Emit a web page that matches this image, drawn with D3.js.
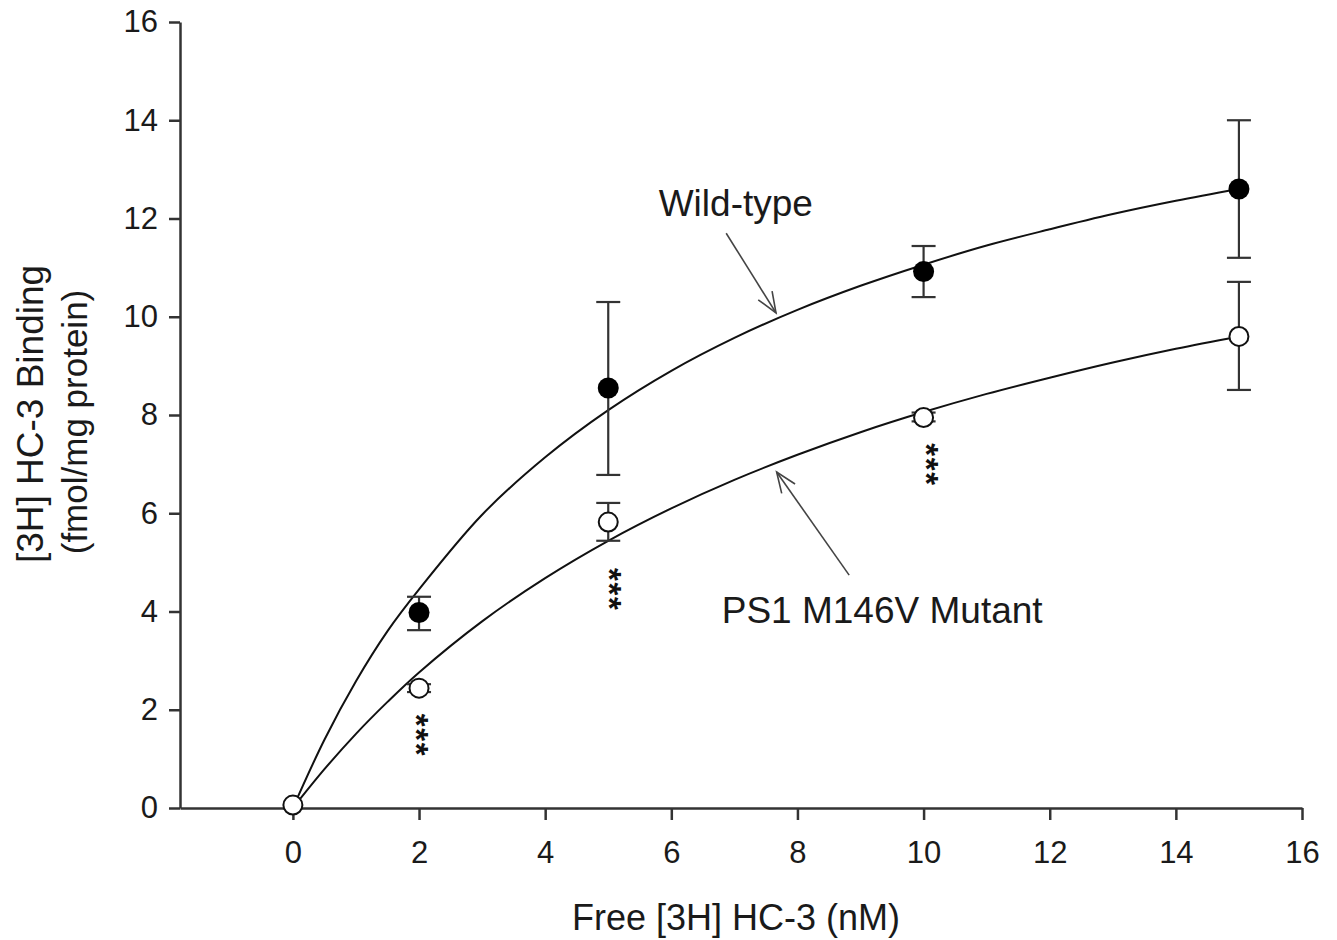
<!DOCTYPE html>
<html>
<head>
<meta charset="utf-8">
<script src="https://cdn.jsdelivr.net/npm/d3@7/dist/d3.min.js"></script>
<style>
  html, body { margin: 0; padding: 0; background: #fff; }
  svg text { font-family: "Liberation Sans", Arial, sans-serif; }
</style>
</head>
<body>
<svg id="chart" width="1337" height="940"></svg>
<script>
// ---- data ----
const xTicks = [0, 2, 4, 6, 8, 10, 12, 14, 16];
const yTicks = [0, 2, 4, 6, 8, 10, 12, 14, 16];

// Wild-type (filled circles): concentration, mean, error low, error high
const wtX    = [2, 5, 10, 15];
const wtY    = [3.98, 8.55, 10.92, 12.60];
const wtLo   = [3.62, 6.78, 10.40, 11.20];
const wtHi   = [4.30, 10.30, 11.44, 14.00];

// PS1 M146V mutant (open circles)
const mutX   = [0, 2, 5, 10, 15];
const mutY   = [0.06, 2.44, 5.82, 7.95, 9.60];
const mutLo  = [0.06, 2.36, 5.44, 7.87, 8.51];
const mutHi  = [0.06, 2.52, 6.21, 8.05, 10.71];

// fitted curves, points
const curveX   = [0, 0.5, 1, 1.5, 2, 3, 4, 5, 6, 7, 8, 9, 10, 11, 12, 13, 14, 15];
const wtCurve  = [0, 1.39, 2.58, 3.60, 4.45, 5.97, 7.14, 8.10, 8.90, 9.57, 10.14, 10.63, 11.06, 11.45, 11.78, 12.09, 12.36, 12.60];
const mutCurve = [0, 0.79, 1.51, 2.16, 2.76, 3.80, 4.68, 5.44, 6.10, 6.68, 7.19, 7.65, 8.06, 8.43, 8.76, 9.07, 9.35, 9.60];

// significance marks (***), position in data units
const sigX = [1.97, 5.02, 10.06];
const sigY = [1.49, 4.46, 7.00];

// annotation labels and arrows (data units)
const labels = [
  { text: "Wild-type", x: 5.80, y: 12.05 },
  { text: "PS1 M146V Mutant", x: 6.80, y: 3.77 }
];
const arrows = [
  { x1: 6.87, y1: 11.70, x2: 7.66, y2: 10.08 },
  { x1: 8.82, y1: 4.74,  x2: 7.67, y2: 6.84 }
];

// ---- drawing ----
const svg = d3.select("#chart");
const x = d3.scaleLinear().domain([-1.79, 16]).range([180, 1302]);
const y = d3.scaleLinear().domain([0, 16]).range([808, 22]);
const axisColor = "#333";

// curves
const line = d3.line().x(d => x(d[0])).y(d => y(d[1])).curve(d3.curveCatmullRom.alpha(0.5));
svg.append("path").datum(curveX.map((v, i) => [v, wtCurve[i]]))
  .attr("d", line).attr("fill", "none").attr("stroke", "#111").attr("stroke-width", 2);
svg.append("path").datum(curveX.map((v, i) => [v, mutCurve[i]]))
  .attr("d", line).attr("fill", "none").attr("stroke", "#111").attr("stroke-width", 2);

// axes
const xAxis = d3.axisBottom(x).tickValues(xTicks).tickSize(12).tickPadding(21).tickSizeOuter(0).tickFormat(d3.format("d"));
const gx = svg.append("g").attr("transform", `translate(0,${y(0)})`).call(xAxis);
const yAxis = d3.axisLeft(y).tickValues(yTicks).tickSize(11).tickPadding(11).tickSizeOuter(0).tickFormat(d3.format("d"));
const gy = svg.append("g").attr("transform", `translate(${x(-1.79)},0)`).call(yAxis);
[gx, gy].forEach(g => {
  g.select(".domain").attr("stroke", axisColor).attr("stroke-width", 2.5);
  g.selectAll(".tick line").attr("stroke", axisColor).attr("stroke-width", 2.5);
  g.selectAll(".tick text").attr("fill", "#1a1a1a").style("font-size", "31px")
    .style("font-family", '"Liberation Sans", Arial, sans-serif');
});

// error bars
function errorBars(xs, lo, hi) {
  const g = svg.append("g").attr("stroke", axisColor).attr("stroke-width", 2.2);
  xs.forEach((xv, i) => {
    if (hi[i] - lo[i] <= 0) return;
    g.append("line").attr("x1", x(xv)).attr("x2", x(xv)).attr("y1", y(lo[i])).attr("y2", y(hi[i]));
    [lo[i], hi[i]].forEach(v => {
      g.append("line").attr("x1", x(xv) - 12).attr("x2", x(xv) + 12).attr("y1", y(v)).attr("y2", y(v));
    });
  });
}
errorBars(wtX, wtLo, wtHi);
errorBars(mutX, mutLo, mutHi);

// markers
svg.append("g").selectAll("circle").data(wtX).join("circle")
  .attr("cx", d => x(d)).attr("cy", (d, i) => y(wtY[i])).attr("r", 10.5)
  .attr("fill", "#000");
svg.append("g").selectAll("circle").data(mutX).join("circle")
  .attr("cx", d => x(d)).attr("cy", (d, i) => y(mutY[i])).attr("r", 9.5)
  .attr("fill", "#fff").attr("stroke", "#111").attr("stroke-width", 2);

// significance asterisks
const sg = svg.append("g");
sigX.forEach((xv, i) => {
  [-1, 0, 1].forEach(k => {
    sg.append("text").attr("x", x(xv)).attr("y", y(sigY[i]) + k * 14.5 + 12)
      .attr("text-anchor", "middle").style("font-size", "33px").style("font-weight", "bold")
      .attr("fill", "#111")
      .attr("transform", `rotate(90,${x(xv)},${y(sigY[i]) + k * 14.5})`)
      .text("*");
  });
});

// annotation arrows
const ag = svg.append("g").attr("stroke", "#444").attr("stroke-width", 1.6).attr("fill", "none");
arrows.forEach(a => {
  const X1 = x(a.x1), Y1 = y(a.y1), X2 = x(a.x2), Y2 = y(a.y2);
  ag.append("line").attr("x1", X1).attr("y1", Y1).attr("x2", X2).attr("y2", Y2);
  const ang = Math.atan2(Y1 - Y2, X1 - X2);
  const L = 22, s = 0.38;
  const p1 = [X2 + L * Math.cos(ang + s), Y2 + L * Math.sin(ang + s)];
  const p2 = [X2 + L * Math.cos(ang - s), Y2 + L * Math.sin(ang - s)];
  ag.append("path").attr("d", `M${p1[0]},${p1[1]}L${X2},${Y2}L${p2[0]},${p2[1]}`);
});

// annotation labels
labels.forEach(l => {
  svg.append("text").attr("x", x(l.x)).attr("y", y(l.y))
    .style("font-size", "37px").attr("fill", "#1a1a1a").text(l.text);
});

// axis titles
svg.append("text").attr("x", 736).attr("y", 930).attr("text-anchor", "middle")
  .style("font-size", "36px").attr("fill", "#1a1a1a").text("Free [3H] HC-3 (nM)");
svg.append("text").attr("transform", "translate(43,414) rotate(-90)").attr("text-anchor", "middle")
  .style("font-size", "37px").attr("fill", "#1a1a1a").text("[3H] HC-3 Binding");
svg.append("text").attr("transform", "translate(87,422) rotate(-90)").attr("text-anchor", "middle")
  .style("font-size", "35px").attr("fill", "#1a1a1a").text("(fmol/mg protein)");
</script>
</body>
</html>
